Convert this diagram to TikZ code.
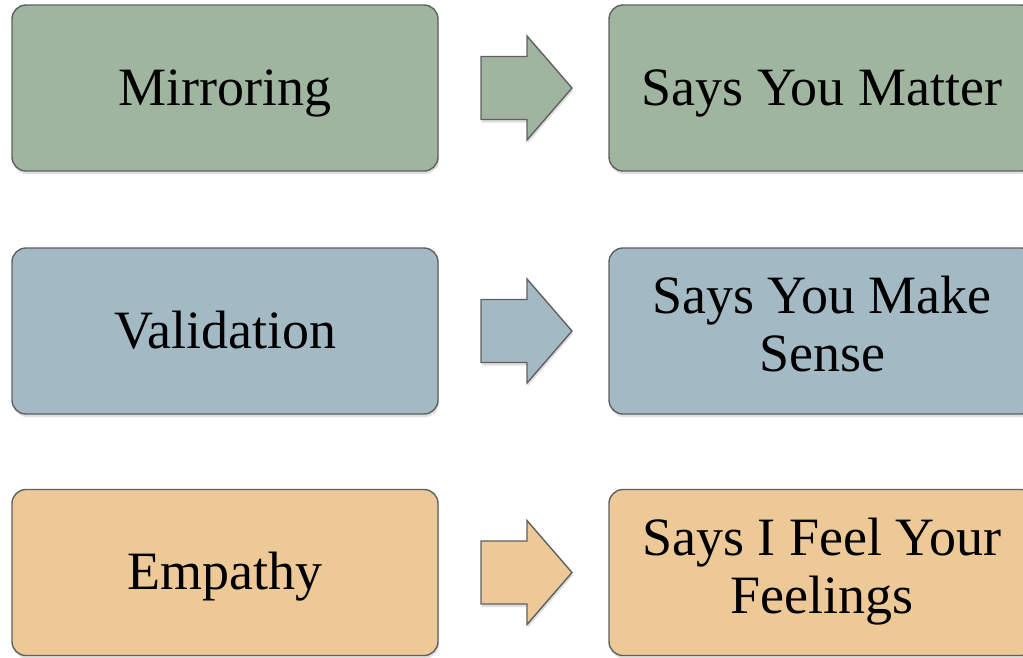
\documentclass[tikz,border=0pt]{standalone}
\usepackage{fontspec}
\setmainfont{Liberation Serif}
\usetikzlibrary{shadows}
\definecolor{sage}{HTML}{A0B5A0}
\definecolor{steel}{HTML}{A3BAC5}
\definecolor{sand}{HTML}{EDC997}
\definecolor{edge}{HTML}{606060}
\begin{document}
\begin{tikzpicture}[x=1pt,y=-1pt,
  shade/.style={drop shadow={opacity=0.25,shadow xshift=1pt,shadow yshift=-3pt}},
  card/.style={draw=edge,line width=1.4pt,rounded corners=14pt,
    minimum width=426pt,minimum height=166pt,inner sep=0pt,align=center,
    font=\fontsize{54}{58}\selectfont,shade},
  blockarrow/.style={draw=edge,line width=1.4pt,line join=miter,shade}]
\useasboundingbox (0,0) rectangle (1023,657);

% one line of text with its baseline a little below the card's centre
\newcommand\oneline[1]{\raisebox{-17pt}[0pt][0pt]{#1}}
% two centred lines, set a touch above the card's centre
\newcommand\twolines[2]{\raisebox{3pt}{\begin{tabular}{@{}c@{}}#1\\#2\end{tabular}}}
% block arrow centred on a coordinate
\newcommand\blockarrowat[2]{%
  \path[blockarrow,fill=#2] (#1) ++(-45.5,-31.5) -- ++(46,0) -- ++(0,-20.5)
    -- ++(45,52) -- ++(-45,52) -- ++(0,-20.5) -- ++(-46,0) -- cycle;}

% row 1 (the right-hand cards run past the page's right edge)
\node[card,fill=sage] (mir) at (225,88) {\oneline{Mirroring}};
\node[card,fill=sage] (mat) at (822,88) {\oneline{Says You Matter}};
\coordinate (a1) at (526.5,88);
\blockarrowat{a1}{sage}

% row 2
\node[card,fill=steel] (val) at (225,331) {\oneline{Validation}};
\node[card,fill=steel] (sen) at (822,331) {\twolines{Says You Make}{Sense}};
\coordinate (a2) at (526.5,331);
\blockarrowat{a2}{steel}

% row 3
\node[card,fill=sand] (emp) at (225,572.5) {\oneline{Empathy}};
\node[card,fill=sand] (fee) at (822,572.5) {\twolines{Says I Feel Your}{Feelings}};
\coordinate (a3) at (526.5,572.5);
\blockarrowat{a3}{sand}
\end{tikzpicture}
\end{document}
